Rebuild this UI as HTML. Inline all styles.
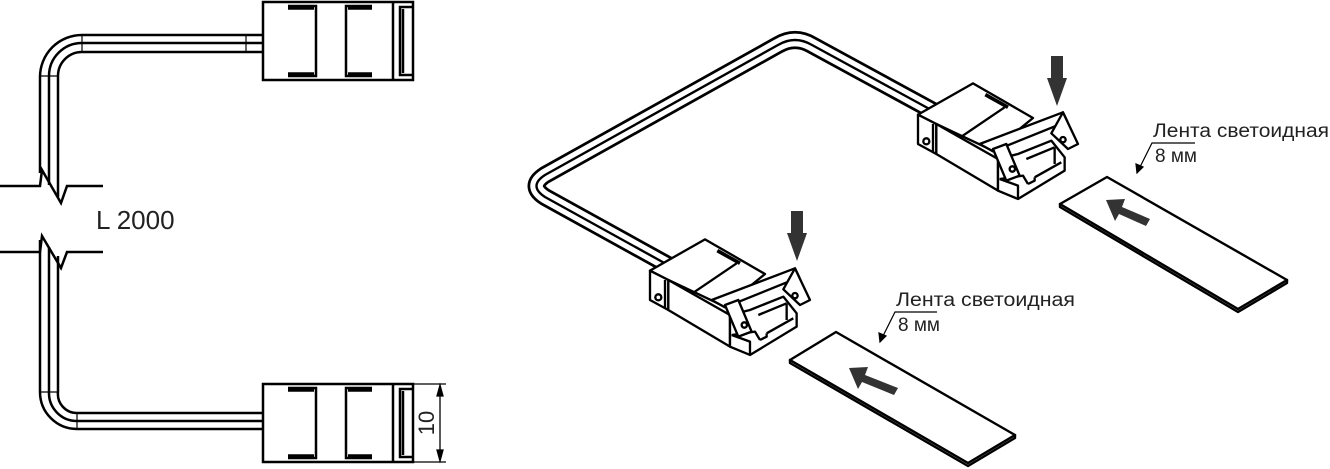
<!DOCTYPE html>
<html><head><meta charset="utf-8"><style>
html,body{margin:0;padding:0;background:#fff;}
svg{display:block}
text{font-family:"Liberation Sans",sans-serif;fill:#222}
</style></head><body>
<svg width="1330" height="469" viewBox="0 0 1330 469" xmlns="http://www.w3.org/2000/svg">
<defs>
<g id="flatcon" fill="none" stroke="#000" stroke-width="2.5">
  <rect x="263" y="2" width="150" height="78"/>
  <line x1="393" y1="2" x2="393" y2="80"/>
  <path d="M288,6 L316,6 L316,76 L288,76 M288,8.5 L314,8.5 M288,73.5 L314,73.5"/>
  <path d="M372,6 L346,6 L346,76 L372,76 M348,8.5 L372,8.5 M348,73.5 L372,73.5"/>
  <path d="M413,7 L400,7 L400,75 L413,75 M403,9 L403,73"/>
</g>
<g id="con3d" stroke="#000" stroke-width="7" stroke-linejoin="round" fill="#fff">
  <polygon points="30,212 195,118 375,222 255,320 85,240"/>
  <polygon points="30,212 85,240 85,330 30,300"/>
  <line x1="75" y1="240" x2="75" y2="325"/>
  <circle cx="55" cy="292" r="9"/>
  <polygon points="85,240 270,345 270,440 85,330"/>
  <line x1="160" y1="278" x2="290" y2="190"/>
  <line x1="232" y1="152" x2="300" y2="190" stroke-width="11"/>
  <polygon points="270,345 330,330 430,290 470,340 470,380 330,465 270,440"/>
  <path d="M275,405 L345,395 L360,420 M330,465 L330,425 L275,405 M355,345 L440,310 M380,400 L460,355 M360,420 L380,410 L380,400 M440,310 L440,360" fill="none"/>
  <polygon points="215,300 465,205 478,232 255,322"/>
  <polygon points="255,315 295,300 335,395 295,410"/>
  <circle cx="313" cy="375" r="8"/>
  <polygon points="430,268 465,205 510,300 480,315"/>
  <circle cx="465" cy="287" r="8"/>
</g>
<g id="arrowdn" fill="#333">
  <rect x="-6" y="0" width="12" height="24"/>
  <polygon points="-10,22 10,22 0,50"/>
</g>
</defs>

<!-- LEFT DRAWING -->
<g fill="none" stroke="#000" stroke-width="2.5">
  <path d="M262,35 L82,35 A42,42 0 0 0 40,77 L40,173"/>
  <path d="M262,43 L82,43 A33,33 0 0 0 49,76 L49,185"/>
  <path d="M262,52 L82,52 A24,24 0 0 0 58,76 L58,197"/>
  <path d="M82,35 L82,52 M40,76 L58,76 M246,35 L246,52" stroke-width="1.2"/>
  <path d="M0,186 L40,186 L42,170 L61,203 L67,186 L103,186"/>
  <path d="M0,252 L40,252 L42,236 L61,268 L67,252 L103,252"/>
  <path d="M40,240 L40,392 A37,37 0 0 0 77,429 L262,429"/>
  <path d="M49,247 L49,392 A28,28 0 0 0 77,421 L262,421"/>
  <path d="M58,256 L58,392 A19,19 0 0 0 77,413 L262,413"/>
  <path d="M77,413 L77,429 M40,392 L58,392" stroke-width="1.2"/>
</g>
<use href="#flatcon"/>
<use href="#flatcon" transform="translate(0,382)"/>
<text x="96" y="229" font-size="26">L 2000</text>
<g stroke="#000" stroke-width="1.3" fill="#000">
  <line x1="413" y1="384" x2="446" y2="384"/>
  <line x1="413" y1="462" x2="446" y2="462"/>
  <line x1="440" y1="386" x2="440" y2="460"/>
  <polygon points="440,385 437,396 443,396"/>
  <polygon points="440,461 437,450 443,450"/>
</g>
<text transform="translate(434,423) rotate(-90)" font-size="22" text-anchor="middle">10</text>

<!-- RIGHT: cable -->
<path d="M935,112 L812,45 Q795,35 778,45 L545,175 Q528,186 545,197 L668,265" fill="none" stroke="#000" stroke-width="18"/>
<path d="M935,112 L812,45 Q795,35 778,45 L545,175 Q528,186 545,197 L668,265" fill="none" stroke="#fff" stroke-width="12.5"/>
<path d="M935,112 L812,45 Q795,35 778,45 L545,175 Q528,186 545,197 L668,265" fill="none" stroke="#000" stroke-width="2.4"/>

<use href="#con3d" transform="translate(640,200) scale(0.3333)"/>
<use href="#con3d" transform="translate(908,44) scale(0.3333)"/>
<use href="#arrowdn" transform="translate(797,211)"/>
<use href="#arrowdn" transform="translate(1057,56)"/>

<!-- tapes -->
<g stroke="#000" stroke-width="2.4" fill="#fff" stroke-linejoin="round">
  <polygon points="790,360 790,363 968,466 1015,438 1015,435 968,463"/>
  <polygon points="790,360 836,332 1015,435 968,463"/>
  <polygon points="1060,204 1060,207 1238,312 1287,283 1287,280 1238,309"/>
  <polygon points="1060,204 1107,177 1287,280 1238,309"/>
</g>
<g fill="#333">
  <polygon points="849,368 868,367 865,375 898,388 894,395 862,382 858,389"/>
  <polygon points="1106,200 1125,199 1122,207 1150,219 1146,226 1119,214 1115,221"/>
</g>
<g stroke="#000" stroke-width="1.2" fill="#000">
  <path d="M937,312 L895,312 L882,338" fill="none"/>
  <polygon points="880,342 879,333 886,336"/>
  <path d="M1195,143 L1152,143 L1139,169" fill="none"/>
  <polygon points="1137,173 1136,164 1143,167"/>
</g>
<text x="896" y="306" font-size="19" textLength="179" lengthAdjust="spacingAndGlyphs">Лента светоидная</text>
<text x="898" y="331" font-size="19">8 мм</text>
<text x="1153" y="137" font-size="19" textLength="176" lengthAdjust="spacingAndGlyphs">Лента светоидная</text>
<text x="1155" y="162" font-size="19">8 мм</text>
</svg>
</body></html>
